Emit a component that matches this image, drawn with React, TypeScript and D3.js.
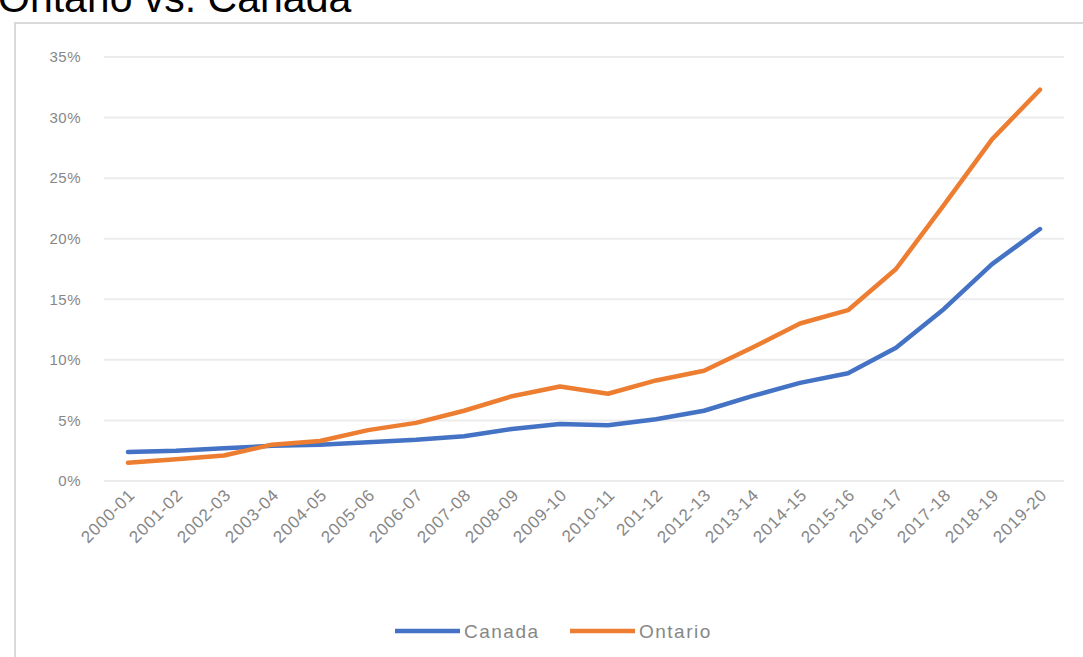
import React from "react";
import * as d3 from "d3";

const categories = [
  "2000-01", "2001-02", "2002-03", "2003-04", "2004-05", "2005-06", "2006-07",
  "2007-08", "2008-09", "2009-10", "2010-11", "201-12", "2012-13", "2013-14",
  "2014-15", "2015-16", "2016-17", "2017-18", "2018-19", "2019-20",
];
const canada = [2.4, 2.5, 2.7, 2.9, 3.0, 3.2, 3.4, 3.7, 4.3, 4.7, 4.6, 5.1, 5.8, 7.0, 8.1, 8.9, 11.0, 14.2, 17.9, 20.8];
const ontario = [1.5, 1.8, 2.1, 3.0, 3.3, 4.2, 4.8, 5.8, 7.0, 7.8, 7.2, 8.3, 9.1, 11.0, 13.0, 14.1, 17.5, 22.8, 28.2, 32.3];
const yTicks = [0, 5, 10, 15, 20, 25, 30, 35];
const seriesNames = ["Canada", "Ontario"];
const seriesColors = ["#4472C4", "#ED7D31"];

const W = 1083;
const H = 657;
const FONT = "'Liberation Sans', Arial, sans-serif";
const GRAY = "#878787";

export default function App() {
  const x = d3.scaleBand<string>().domain(categories).range([104, 1064]);
  const y = d3.scaleLinear().domain([0, 35]).range([481, 57]);
  const cx = (c: string) => (x(c) as number) + x.bandwidth() / 2;
  const line = d3
    .line<number>()
    .x((_, i) => cx(categories[i]))
    .y((d) => y(d));
  const series = [canada, ontario];

  return (
    <svg
      width={W}
      height={H}
      style={{ position: "absolute", left: 0, top: 0, background: "#fff" }}
    >
      <rect x={0} y={0} width={W} height={H} fill="#fff" />
      <text x={-2} y={12} fontFamily={FONT} fontSize={41} fill="#000">
        Ontario vs. Canada
      </text>
      <rect x={15} y={23} width={W} height={H} fill="none" stroke="#d9d9d9" strokeWidth={2} />
      {yTicks.map((t) => (
        <g key={t}>
          <line x1={104} x2={1064} y1={y(t)} y2={y(t)} stroke="#ececec" strokeWidth={2} />
          <text
            x={81}
            y={y(t)}
            dy="0.35em"
            textAnchor="end"
            fontFamily={FONT}
            fontSize={15}
            letterSpacing={0.5}
            fill={GRAY}
          >
            {t}%
          </text>
        </g>
      ))}
      {categories.map((c) => (
        <text
          key={c}
          transform={`translate(${cx(c) + 8},${496}) rotate(-45)`}
          textAnchor="end"
          fontFamily={FONT}
          fontSize={17}
          letterSpacing={0.8}
          fill={GRAY}
        >
          {c}
        </text>
      ))}
      {series.map((s, i) => (
        <path
          key={i}
          d={line(s) || ""}
          fill="none"
          stroke={seriesColors[i]}
          strokeWidth={4.5}
          strokeLinejoin="round"
          strokeLinecap="round"
        />
      ))}
      {seriesNames.map((n, i) => {
        const lx = 395 + i * 175;
        return (
          <g key={n}>
            <line x1={lx} x2={lx + 65} y1={631} y2={631} stroke={seriesColors[i]} strokeWidth={4.5} />
            <text
              x={lx + 69}
              y={631}
              dy="0.35em"
              fontFamily={FONT}
              fontSize={19}
              letterSpacing={1.5}
              fill={GRAY}
            >
              {n}
            </text>
          </g>
        );
      })}
    </svg>
  );
}
